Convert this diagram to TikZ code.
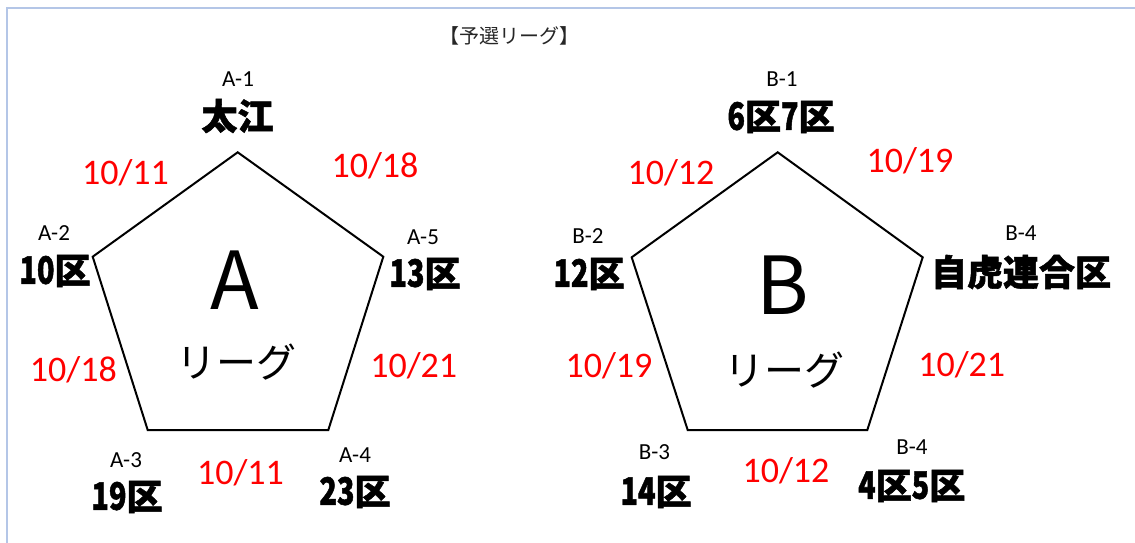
\documentclass[tikz,border=0pt]{standalone}
\usepackage{fontspec}
\usepackage{graphicx}
\setmainfont{Carlito}
\newfontfamily\cjk{Noto Sans CJK JP}
\newfontfamily\cjkheavy{Noto Sans CJK JP}[BoldFeatures={FakeBold=1.5}]
\newcommand{\nd}[1]{\scalebox{0.8}[1.05]{#1}}
\definecolor{framebl}{RGB}{180,198,231}
\tikzset{
  pent/.style={draw=black, line width=2pt, line join=miter},
  tag/.style={inner sep=0pt, font=\fontsize{23}{26}\selectfont},
  team/.style={inner sep=0pt, font=\cjkheavy\bfseries\fontsize{36}{40}\selectfont},
  date/.style={inner sep=0pt, text=red, font=\fontsize{36}{40}\selectfont},
  bigletter/.style={inner sep=0pt, font=\cjk\fontsize{80}{90}\selectfont},
  league/.style={inner sep=0pt, font=\cjk\fontsize{40}{44}\selectfont},
  titletext/.style={inner sep=0pt, text=black!85, font=\cjk\fontsize{20}{24}\selectfont},
}
\begin{document}
\begin{tikzpicture}[x=1pt,y=-1pt]
\useasboundingbox (0,0) rectangle (1135,543);
\fill[white] (0,0) rectangle (1135,543);
% frame
\coordinate (fbl) at (7,543);
\coordinate (ftl) at (7,8);
\coordinate (ftr) at (1135,8);
\draw[framebl, line width=2pt] (fbl) -- (ftl) -- (ftr);
% title
\node[titletext] (title) at (509,36) {【予選リーグ】};

% ---------- A league ----------
\coordinate (a1) at (237.7,152.3);
\coordinate (a2) at (92.7,256.7);
\coordinate (a5) at (383.3,256.7);
\coordinate (a3) at (147.7,430);
\coordinate (a4) at (328.3,430);
\draw[pent] (a1) -- (a5) -- (a4) -- (a3) -- (a2) -- cycle;
\node[bigletter] (aletter) at (235,280) {A};
\node[league] (aleague) at (236.7,362) {リーグ};

\node[tag] (ta1) at (238,79) {A-1};
\node[team] (na1) at (237.5,116) {太江};
\node[tag] (ta2) at (54,233) {A-2};
\node[team] (na2) at (55,271) {\nd{10}区};
\node[tag] (ta5) at (423,237) {A-5};
\node[team] (na5) at (425,274) {\nd{13}区};
\node[tag] (ta3) at (126,460) {A-3};
\node[team] (na3) at (127,497) {\nd{19}区};
\node[tag] (ta4) at (355,455) {A-4};
\node[team] (na4) at (355,492) {\nd{23}区};

\node[date] (da12) at (125.5,172.5) {10/11};
\node[date] (da15) at (375,166) {10/18};
\node[date] (da23) at (73.3,370) {10/18};
\node[date] (da54) at (413.7,365.7) {10/21};
\node[date] (da34) at (240.5,473) {10/11};

% ---------- B league ----------
\coordinate (b1) at (777.7,152.3);
\coordinate (b2) at (631.7,257.3);
\coordinate (b5) at (922.7,257.3);
\coordinate (b3) at (687.7,430);
\coordinate (b4) at (867.3,430);
\draw[pent] (b1) -- (b5) -- (b4) -- (b3) -- (b2) -- cycle;
\node[bigletter] (bletter) at (783,285) {B};
\node[league] (bleague) at (784,370) {リーグ};

\node[tag] (tb1) at (782,79) {B-1};
\node[team] (nb1) at (781,117) {\nd{6}区\nd{7}区};
\node[tag] (tb2) at (588,236) {B-2};
\node[team] (nb2) at (589,274) {\nd{12}区};
\node[tag] (tb5) at (1021,233) {B-4};
\node[team] (nb5) at (1021,272) {自虎連合区};
\node[tag] (tb3) at (654.5,452) {B-3};
\node[team] (nb3) at (656,492) {\nd{14}区};
\node[tag] (tb4) at (912,447.5) {B-4};
\node[team] (nb4) at (911.7,486) {\nd{4}区\nd{5}区};

\node[date] (db12) at (671,173) {10/12};
\node[date] (db15) at (910,161) {10/19};
\node[date] (db23) at (609,365.7) {10/19};
\node[date] (db54) at (961.7,365) {10/21};
\node[date] (db34) at (786,470.7) {10/12};
\end{tikzpicture}
\end{document}
